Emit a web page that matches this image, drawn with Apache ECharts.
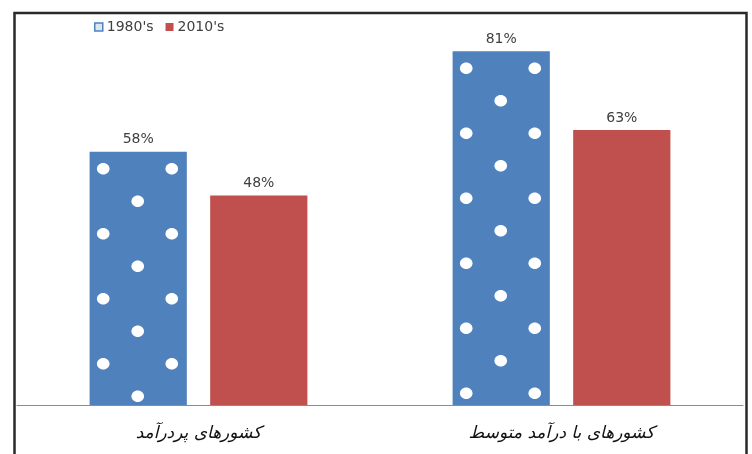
<!DOCTYPE html>
<html>
<head>
<meta charset="utf-8">
<script src="https://cdn.jsdelivr.net/npm/echarts@6/dist/echarts.min.js"></script>
<style>
html,body{margin:0;padding:0;background:#fff;}
#chart{width:752px;height:454px;}
</style>
</head>
<body>
<div id="chart"></div>
<script>
const categories = ['کشورهای پردرآمد', 'کشورهای با درآمد متوسط'];
const seriesNames = ["1980's", "2010's"];
const values1980 = [58, 81];
const values2010 = [48, 63];

const BAR_CAT_GAP = 0.40;
const BAR_GAP = 0.24;

const chart = echarts.init(document.getElementById('chart'), null, {renderer: 'canvas'});

function dotsRender(params, api) {
  const cat = api.value(0);
  const val = api.value(1);
  const base = api.coord([cat, 0]);
  const top = api.coord([cat, val]);
  const band = api.size([1, 0])[0];
  const barW = band * (1 - BAR_CAT_GAP) / (2 + BAR_GAP);
  const total = barW * 2 + barW * BAR_GAP;
  const left = base[0] - total / 2;
  const h = base[1] - top[1];
  const children = [];
  let row = 0;
  for (let off = 17; off <= h - 7; off += 32.5, row++) {
    const xs = row % 2 === 0 ? [0.14, 0.845] : [0.495];
    xs.forEach(function (fx) {
      children.push({
        type: 'ellipse',
        shape: {cx: left + fx * barW, cy: top[1] + off, rx: 6.3, ry: 5.8},
        style: {fill: '#ffffff'}
      });
    });
  }
  return {type: 'group', children: children};
}

const option = {
  backgroundColor: '#ffffff',
  animation: false,
  grid: {left: 17, right: 9, top: 12, bottom: 49, containLabel: false},
  legend: {
    data: [
      {name: seriesNames[0], itemStyle: {color: '#dce6f2', borderColor: '#4f81bd', borderWidth: 1.5}},
      {name: seriesNames[1]}
    ],
    left: 94,
    top: 20,
    padding: 0,
    itemWidth: 8,
    itemHeight: 8,
    itemGap: 12,
    icon: 'rect',
    textStyle: {fontFamily: 'DejaVu Sans', fontSize: 14, color: '#404040', padding: [0, 0, 0, -1]}
  },
  xAxis: {
    type: 'category',
    data: categories,
    axisLine: {show: true, lineStyle: {color: '#8c8c8c', width: 1}},
    axisTick: {show: false},
    axisLabel: {
      fontFamily: 'DejaVu Sans',
      fontSize: 17,
      color: '#111',
      margin: 20,
      fontStyle: 'italic'
    }
  },
  yAxis: {
    type: 'value',
    min: 0,
    max: 90,
    show: false,
    splitLine: {show: false}
  },
  series: [
    {
      name: seriesNames[0],
      type: 'bar',
      data: values1980,
      barCategoryGap: '40%',
      barGap: '24%',
      itemStyle: {color: '#4f81bd'},
      label: {
        show: true, position: 'top', distance: 5,
        formatter: '{c}%', fontFamily: 'DejaVu Sans', fontSize: 14, color: '#404040'
      }
    },
    {
      name: seriesNames[1],
      type: 'bar',
      data: values2010,
      barCategoryGap: '40%',
      barGap: '24%',
      itemStyle: {color: '#c0504d'},
      label: {
        show: true, position: 'top', distance: 5,
        formatter: '{c}%', fontFamily: 'DejaVu Sans', fontSize: 14, color: '#404040'
      }
    },
    {
      name: 'dots',
      type: 'custom',
      silent: true,
      z: 5,
      renderItem: dotsRender,
      encode: {x: 0, y: 1},
      data: values1980.map(function (v, i) { return [i, v]; })
    }
  ],
  graphic: [
    {
      type: 'rect',
      shape: {x: 14.5, y: 13, width: 732, height: 500},
      style: {fill: 'none', stroke: '#2a2a2a', lineWidth: 2.5},
      silent: true,
      z: 10
    }
  ]
};
chart.setOption(option);
</script>
</body>
</html>
